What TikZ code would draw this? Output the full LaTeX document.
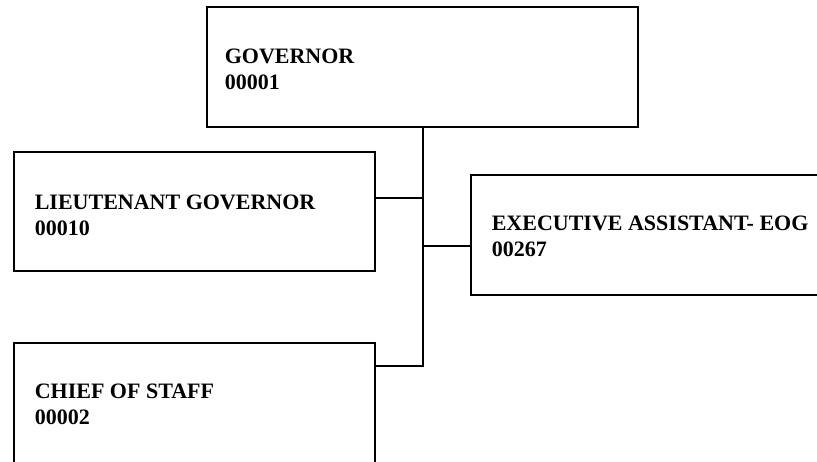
\documentclass[tikz,border=0pt]{standalone}
\usepackage{fontspec}
\setmainfont{Liberation Serif}
\usetikzlibrary{calc}
\begin{document}
\begin{tikzpicture}[x=1pt,y=-1pt,
  post/.style={draw=black, line width=2.8pt, rectangle, inner sep=0pt, fill=white},
  link/.style={draw=black, line width=2pt},
  title/.style={anchor=base west, inner sep=0pt, text=black,
    font=\fontsize{22}{26}\selectfont\bfseries}]
% page area
\clip (0,0) rectangle (817,461);
\fill[white] (0,0) rectangle (817,461);

% positions
\node[post, minimum width=431pt, minimum height=120pt] (gov) at (422.5,67) {};
\node[post, minimum width=361pt, minimum height=119pt] (lg)  at (194.5,211.5) {};
\node[post, minimum width=429pt, minimum height=120pt] (ea)  at (685.5,235) {};
\node[post, minimum width=361pt, minimum height=140pt] (cos) at (194.5,413) {};

% titles and position numbers
\node[title] (govname) at ($(gov.north west)+(19,58)$) {GOVERNOR};
\node[title] (govnum)  at ($(gov.north west)+(19,84)$) {00001};
\node[title] (lgname)  at ($(lg.north west)+(22,59)$) {LIEUTENANT GOVERNOR};
\node[title] (lgnum)   at ($(lg.north west)+(22,85)$) {00010};
\node[title] (eaname)  at ($(ea.north west)+(22,57)$) {EXECUTIVE ASSISTANT- EOG};
\node[title] (eanum)   at ($(ea.north west)+(22,83)$) {00267};
\node[title] (cosname) at ($(cos.north west)+(22,57)$) {CHIEF OF STAFF};
\node[title] (cosnum)  at ($(cos.north west)+(22,83)$) {00002};

% reporting lines
\coordinate (lgjoin)  at ($(lg.north east)+(0,47)$);
\coordinate (eajoin)  at ($(ea.north west)+(0,72)$);
\coordinate (cosjoin) at ($(cos.north east)+(0,24)$);
\draw[link] (gov.south) -- (gov.south |- cosjoin) -- (cosjoin);
\draw[link] (lgjoin) -- (gov.south |- lgjoin);
\draw[link] (eajoin) -- (gov.south |- eajoin);
\end{tikzpicture}
\end{document}
